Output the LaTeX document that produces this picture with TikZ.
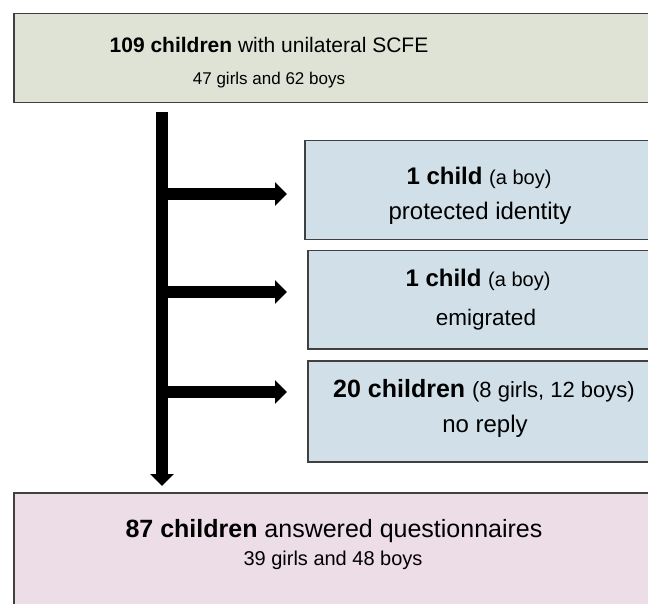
\documentclass[tikz,border=0pt]{standalone}
\usepackage{fontspec}
\setmainfont{Liberation Sans}
\usetikzlibrary{
  arrows.meta,
  positioning
}
\definecolor{startfill}{HTML}{DFE3D6}
\definecolor{lossfill}{HTML}{D1E0E8}
\definecolor{endfill}{HTML}{ECDDE6}
\definecolor{boxline}{HTML}{404040}
\tikzset{
  % For the boxes, drawn past the right edge.
  box/.style={
    draw=boxline,
    line width=1.5pt,
    anchor=north west,
    minimum width=700pt,
    inner sep=0pt},
%
  % For the lines of text, set on their baseline.
  textline/.style={
    anchor=base,
    inner sep=0pt,
    font=\fontsize{#1}{#1}\selectfont},
%
  % For the fat arrows.
  flow/.style={
    line width=12pt,
    -{Triangle[length=12pt,width=23pt]}}
}
% Smaller text in brackets after a bold count.
\newcommand{\aside}[2]{{\fontsize{#1}{#1}\selectfont #2}}

\begin{document}
\begin{tikzpicture}[x=1pt,y=-1pt]
  \useasboundingbox (0,0) rectangle (648,604);

  \node[box, fill=startfill, minimum height=89pt] (start) at (13,13) {};
  \node[textline=21pt] (start line) at (269,53)
    {\textbf{109 children} with unilateral SCFE};
  \node[textline=17pt] (start sub) at (269,85) {47 girls and 62 boys};

  \node[box, fill=lossfill, minimum height=99pt] (hidden) at (304,140) {};
  \node[textline=24pt] (hidden line) at (479,185)
    {\textbf{1 child} \aside{20pt}{(a boy)}};
  \node[textline=24pt] (hidden sub) at (480,220) {protected identity};

  \node[box, fill=lossfill, minimum height=98pt] (moved) at (307,250) {};
  \node[textline=24pt] (moved line) at (478,287)
    {\textbf{1 child} \aside{20pt}{(a boy)}};
  \node[textline=22.5pt] (moved sub) at (486,325) {emigrated};

  \node[box, fill=lossfill, minimum height=101pt] (silent) at (307,360) {};
  \node[textline=25pt] (silent line) at (484,397)
    {\textbf{20 children} \aside{22pt}{(8 girls, 12 boys)}};
  \node[textline=24pt] (silent sub) at (485,432) {no reply};

  \node[box, fill=endfill, minimum height=140pt] (answered) at (13,492) {};
  \node[textline=25pt] (answered line) at (334,537)
    {\textbf{87 children} answered questionnaires};
  \node[textline=20pt] (answered sub) at (333,565) {39 girls and 48 boys};

  \coordinate (trunk top) at (162,112);
  \coordinate (trunk foot) at (162,486);

  \draw[flow] (trunk top) -- (trunk foot);
  \draw[flow, shorten >=17pt] (trunk top |- 0,194) -- (hidden.west |- 0,194);
  \draw[flow, shorten >=20pt] (trunk top |- 0,292) -- (moved.west |- 0,292);
  \draw[flow, shorten >=20pt] (trunk top |- 0,392) -- (silent.west |- 0,392);
\end{tikzpicture}
\end{document}
